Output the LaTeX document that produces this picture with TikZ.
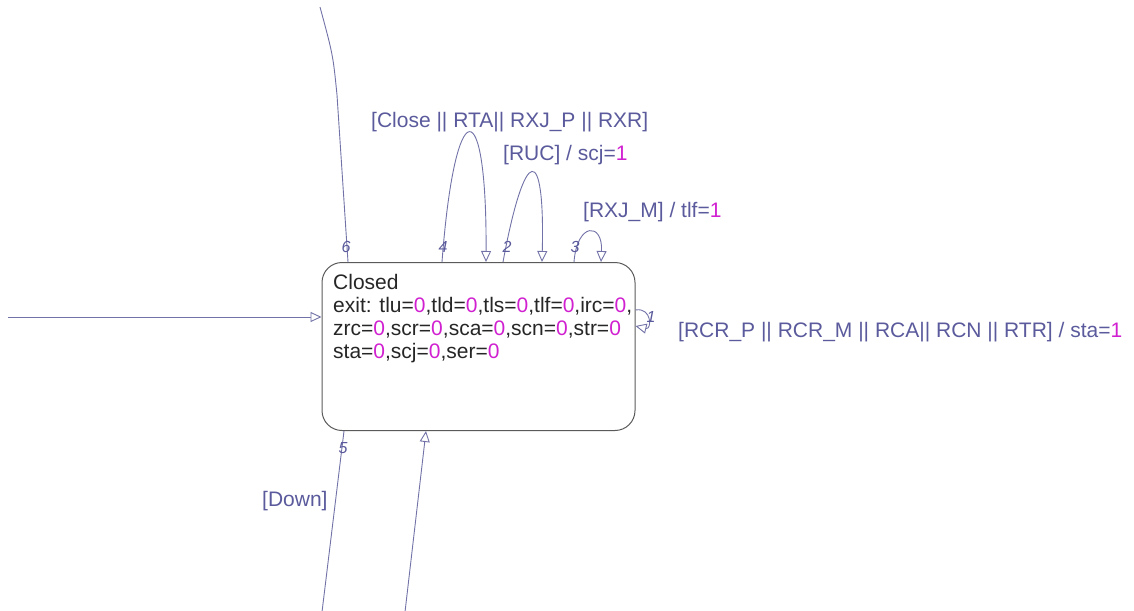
\documentclass[tikz,border=0pt]{standalone}
\usepackage{fontspec}
\setmainfont{Liberation Sans}
\usetikzlibrary{arrows.meta}
\definecolor{edge}{HTML}{7272A8}
\definecolor{lbl}{HTML}{5A5A9C}
\definecolor{num}{HTML}{D020D0}
\definecolor{boxc}{HTML}{5A5A5A}
\newcommand{\nm}[1]{\textcolor{num}{#1}}
\tikzset{
  conn/.style={draw=edge, line width=0.9pt},
  arr/.style={conn, -{Triangle[open, length=11pt, width=10pt, fill=white]}},
  lab/.style={text=lbl, font=\fontsize{21}{24}\selectfont, inner sep=0pt, anchor=base west},
  idx/.style={text=lbl, font=\fontsize{16}{18}\selectfont\itshape, inner sep=0pt, anchor=base},
  statebox/.style={draw=boxc, line width=1pt, rounded corners=20pt, minimum width=313pt, minimum height=168pt, inner sep=0pt}
}
\begin{document}
\begin{tikzpicture}[x=1pt,y=-1pt]
\useasboundingbox (0,0) rectangle (1134,610);
\node[statebox] (closed) at (478.5,346.5) {};
\node[anchor=north west, align=left, inner sep=0pt, text=black!85, font=\fontsize{21}{23}\selectfont] (body) at (333,274)
 {Closed\\exit: tlu=\nm{0},tld=\nm{0},tls=\nm{0},tlf=\nm{0},irc=\nm{0},\\zrc=\nm{0},scr=\nm{0},sca=\nm{0},scn=\nm{0},str=\nm{0}\\sta=\nm{0},scj=\nm{0},ser=\nm{0}};
% coordinates on the box
\coordinate (t6) at ([xshift=26.5pt]closed.north west);
\coordinate (t4s) at ([xshift=120.5pt]closed.north west);
\coordinate (t4e) at ([xshift=164.5pt]closed.north west);
\coordinate (t2s) at ([xshift=181.5pt]closed.north west);
\coordinate (t2e) at ([xshift=220.5pt]closed.north west);
\coordinate (t3s) at ([xshift=252.5pt]closed.north west);
\coordinate (t3e) at ([xshift=279.5pt]closed.north west);
\coordinate (r1s) at ([yshift=-48pt]closed.north east);
\coordinate (r1e) at ([yshift=-64pt]closed.north east);
\coordinate (b5) at ([xshift=22.5pt]closed.south west);
\coordinate (bin) at ([xshift=104.5pt]closed.south west);
\coordinate (lin) at (closed.west |- 0,317);
% free ends
\coordinate (top6) at (320,7);
\coordinate (bend6) at (337,95);
\coordinate (bot5) at (322,612);
\coordinate (botin) at (405,612);
\coordinate (def) at (8,317);
% connectors
\draw[conn] (t6) -- (bend6) .. controls (333,55) .. (top6);
\draw[arr] (t4s) .. controls (455,90) and (487,90) .. (t4e);
\draw[arr] (t2s) .. controls (525,143) and (545,143) .. (t2e);
\draw[arr] (t3s) .. controls (577,222) and (603,222) .. (t3e);
\draw[arr] (r1s) .. controls (652,307) and (652,330) .. (r1e);
\draw[conn] (b5) -- (bot5);
\draw[arr] (botin) -- (bin);
\draw[arr] (def) -- (lin);
% labels
\node[idx] (n6) at (346,252) {6};
\node[idx] (n4) at (443,252) {4};
\node[idx] (n2) at (507,252) {2};
\node[idx] (n3) at (575,252) {3};
\node[idx] (n1) at (651,322) {1};
\node[idx] (n5) at (343,453) {5};
\node[lab] (l4) at (371,127) {[Close || RTA|| RXJ\_P || RXR]};
\node[lab] (l2) at (503,160) {[RUC] / scj=\nm{1}};
\node[lab] (l3) at (583,217) {[RXJ\_M] / tlf=\nm{1}};
\node[lab] (l1) at (678,337) {[RCR\_P || RCR\_M || RCA|| RCN || RTR] / sta=\nm{1}};
\node[lab] (ld) at (262,506) {[Down]};
\end{tikzpicture}
\end{document}
